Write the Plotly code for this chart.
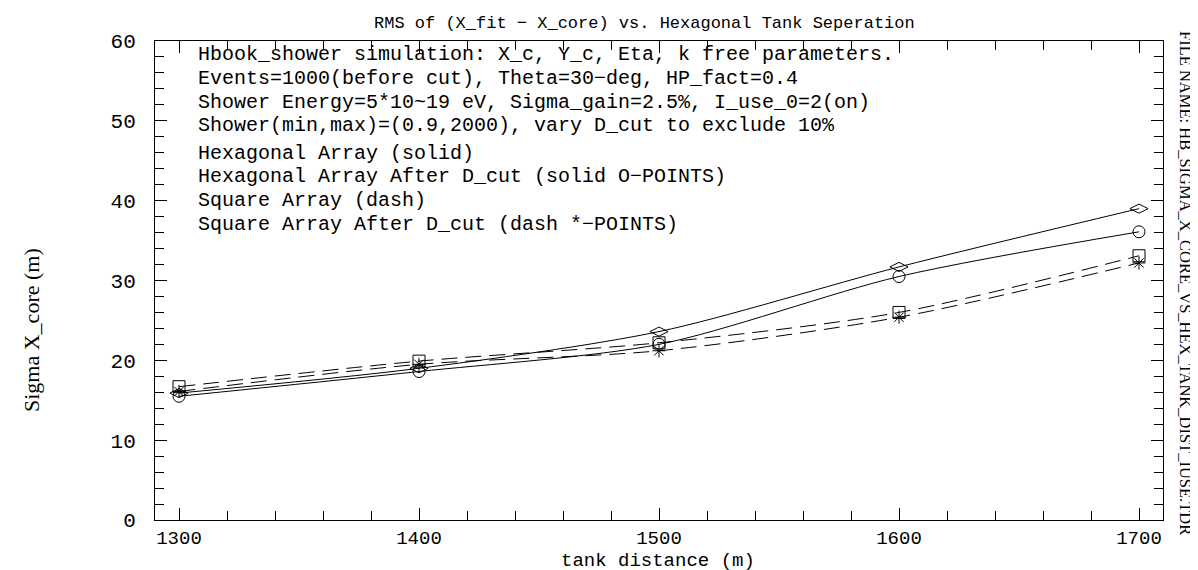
import plotly.graph_objects as go

# ---- data ----
tank_distance = [1300, 1400, 1500, 1600, 1700]
hex_array = [15.9, 19.0, 23.6, 31.7, 39.0]          # solid, diamonds
hex_after_dcut = [15.5, 18.6, 22.0, 30.5, 36.1]     # solid, circles
square_array = [16.7, 19.9, 22.2, 26.0, 33.1]       # dash, squares
square_after_dcut = [16.1, 19.5, 21.2, 25.4, 32.2]  # dash, asterisks

x_ticks = [1300, 1400, 1500, 1600, 1700]
y_ticks = [0, 10, 20, 30, 40, 50, 60]

title_text = "RMS of (X_fit \u2212 X_core) vs. Hexagonal Tank Seperation"
info_lines = [
    "Hbook_shower simulation: X_c, Y_c, Eta, k free parameters.",
    "Events=1000(before cut), Theta=30\u2212deg, HP_fact=0.4",
    "Shower Energy=5*10~19 eV, Sigma_gain=2.5%, I_use_0=2(on)",
    "Shower(min,max)=(0.9,2000), vary D_cut to exclude 10%",
]
legend_lines = [
    "Hexagonal Array (solid)",
    "Hexagonal Array After D_cut (solid O\u2212POINTS)",
    "Square Array (dash)",
    "Square Array After D_cut (dash *\u2212POINTS)",
]
file_label = "FILE NAME: HB_SIGMA_X_CORE_VS_HEX_TANK_DIST_IUSE.TDR"

# ---- layout geometry (pixels) ----
W_IMG, H_IMG = 1198, 570
L, R, T, B = 147, 1155, 33, 512
PW, PH = R - L, B - T

def px(xp):
    return (xp - L) / PW

def py(yp):
    return (B - yp) / PH

MONO = "Liberation Mono"
SERIF = "Liberation Serif"

fig = go.Figure()

def add_series(y, symbol, dash, size):
    fig.add_trace(go.Scatter(
        x=tank_distance, y=y, mode="lines+markers",
        line=dict(color="black", width=1, dash=dash, shape="spline", smoothing=0.8),
        marker=dict(symbol=symbol, size=size, color="black",
                    line=dict(color="black", width=1)),
        showlegend=False, hoverinfo="x+y",
    ))

add_series(hex_array, "diamond-wide-open", "solid", 13)
add_series(hex_after_dcut, "circle-open", "solid", 12)
add_series(square_array, "square-open", "16px,8px", 12)
add_series(square_after_dcut, "asterisk-open", "16px,8px", 11)

axis_common = dict(
    showgrid=False, zeroline=False, showline=True, linecolor="black", linewidth=1,
    mirror="allticks", ticks="inside", ticklen=12, tickcolor="black", tickwidth=1,
)

fig.update_xaxes(range=[1290, 1710], tickvals=x_ticks, ticktext=[str(v) for v in x_ticks],
                 minor=dict(dtick=20, tick0=1300, ticks="inside", ticklen=9,
                            tickcolor="black", tickwidth=1),
                 tickfont=dict(family=MONO, size=19, color="black"),
                 **axis_common)
fig.update_yaxes(range=[0, 60], tickvals=y_ticks, ticktext=[str(v) for v in y_ticks],
                 minor=dict(dtick=2, tick0=0, ticks="inside", ticklen=9,
                            tickcolor="black", tickwidth=1),
                 ticklabelstandoff=14,
                 tickfont=dict(family=MONO, size=21, color="black"),
                 **axis_common)

ann = []
ann.append(dict(text=title_text, x=px(636), y=py(15), xref="paper", yref="paper",
                xanchor="center", yanchor="middle", showarrow=False,
                font=dict(family=MONO, size=17, color="black")))
ann.append(dict(text="tank distance (m)", x=px(650), y=py(553), xref="paper", yref="paper",
                xanchor="center", yanchor="middle", showarrow=False,
                font=dict(family=MONO, size=19, color="black")))
ann.append(dict(text="Sigma X_core (m)", x=px(23), y=py(322), xref="paper", yref="paper",
                xanchor="center", yanchor="middle", showarrow=False, textangle=-90,
                font=dict(family=SERIF, size=22, color="black")))
ann.append(dict(text=file_label, x=px(1178), y=py(275), xref="paper", yref="paper",
                xanchor="center", yanchor="middle", showarrow=False, textangle=90,
                font=dict(family=SERIF, size=16.5, color="black")))

line_y = [47, 70.5, 94, 117.5, 145.5, 169, 192.5, 216]
for i, txt in enumerate(info_lines + legend_lines):
    ann.append(dict(text=txt, x=px(188), y=py(line_y[i]), xref="paper", yref="paper",
                    xanchor="left", yanchor="middle", showarrow=False,
                    font=dict(family=MONO, size=20, color="black")))

fig.update_layout(
    width=W_IMG, height=H_IMG,
    margin=dict(l=L, r=W_IMG - R, t=T, b=H_IMG - B, pad=0),
    paper_bgcolor="white", plot_bgcolor="white",
    annotations=ann,
)

fig.write_html("out.html")
